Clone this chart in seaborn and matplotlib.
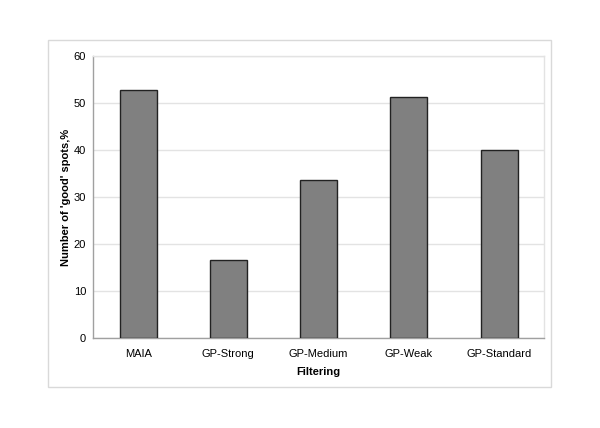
import pandas as pd
import matplotlib
matplotlib.use("Agg")
import matplotlib.pyplot as plt
import seaborn as sns
from matplotlib.patches import Rectangle

methods = ["MAIA", "GP-Strong", "GP-Medium", "GP-Weak", "GP-Standard"]
good_spots = [52.7, 16.5, 33.6, 51.2, 40.0]

df = pd.DataFrame({"Filtering": methods, "pct": good_spots})

sns.set_style("white")
plt.rcParams["font.family"] = ["Liberation Sans", "DejaVu Sans"]
plt.rcParams["text.color"] = "black"
plt.rcParams["axes.labelcolor"] = "black"
plt.rcParams["xtick.labelcolor"] = "black"
plt.rcParams["ytick.labelcolor"] = "black"

fig = plt.figure(figsize=(6, 4.28), dpi=100)
ax = fig.add_axes([0.155, 0.2103, 0.752, 0.659])

# outer chart border
fig.patches.append(Rectangle((48 / 600, 1 - 387 / 428), 503 / 600, 347 / 428,
                             transform=fig.transFigure, fill=False,
                             edgecolor="#d9d9d9", linewidth=1))

sns.barplot(data=df, x="Filtering", y="pct", color="#808080", width=0.41,
            edgecolor="#222222", linewidth=1, saturation=1, ax=ax, zorder=3)

ax.set_ylim(0, 60)
ax.set_xlim(-0.5, 4.5)
ax.set_yticks(range(0, 61, 10))
ax.yaxis.grid(True, color="#e3e3e3", linewidth=1, zorder=0)
ax.set_axisbelow(True)

# ticks at category boundaries on x
ax.set_xticks([i - 0.5 for i in range(6)], minor=True)
ax.tick_params(axis="x", which="major", length=0, labelsize=8, pad=8)
ax.tick_params(axis="x", which="minor", length=3, color="#a0a0a0", direction="out")
ax.tick_params(axis="y", length=3, color="#a0a0a0", direction="out", labelsize=8, pad=2)

for s in ["left", "bottom"]:
    ax.spines[s].set_color("#a0a0a0")
    ax.spines[s].set_linewidth(1)
for s in ["top", "right"]:
    ax.spines[s].set_color("#e3e3e3")
    ax.spines[s].set_linewidth(1)

ax.set_xlabel("Filtering", fontsize=8, fontweight="bold", labelpad=6)
ax.set_ylabel("Number of 'good' spots,%", fontsize=8, fontweight="bold", labelpad=2)

fig.savefig("out.png", dpi=100)
